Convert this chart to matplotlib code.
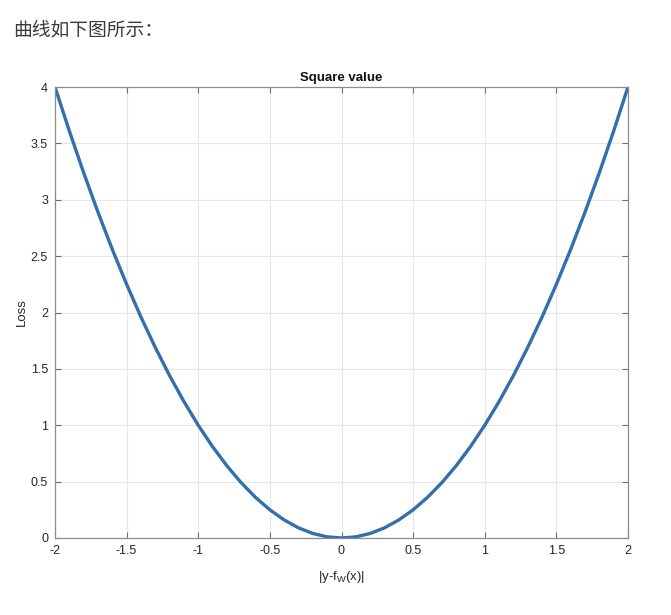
import matplotlib
matplotlib.use('Agg')
import matplotlib.pyplot as plt

plt.rcParams['font.family'] = ['Liberation Sans', 'Noto Sans CJK SC', 'DejaVu Sans']
plt.rcParams['mathtext.default'] = 'regular'

# values, step 0.1
x_vals = [-2.0, -1.9, -1.8, -1.7, -1.6, -1.5, -1.4, -1.3, -1.2, -1.1,
          -1.0, -0.9, -0.8, -0.7, -0.6, -0.5, -0.4, -0.3, -0.2, -0.1,
          0.0, 0.1, 0.2, 0.3, 0.4, 0.5, 0.6, 0.7, 0.8, 0.9,
          1.0, 1.1, 1.2, 1.3, 1.4, 1.5, 1.6, 1.7, 1.8, 1.9, 2.0]
loss_vals = [4.0, 3.61, 3.24, 2.89, 2.56, 2.25, 1.96, 1.69, 1.44, 1.21,
             1.0, 0.81, 0.64, 0.49, 0.36, 0.25, 0.16, 0.09, 0.04, 0.01,
             0.0, 0.01, 0.04, 0.09, 0.16, 0.25, 0.36, 0.49, 0.64, 0.81,
             1.0, 1.21, 1.44, 1.69, 1.96, 2.25, 2.56, 2.89, 3.24, 3.61, 4.0]
x_ticks = [-2, -1.5, -1, -0.5, 0, 0.5, 1, 1.5, 2]
x_tick_labels = ['-2', '-1.5', '-1', '-0.5', '0', '0.5', '1', '1.5', '2']
y_ticks = [0, 0.5, 1, 1.5, 2, 2.5, 3, 3.5, 4]
y_tick_labels = ['0', '0.5', '1', '1.5', '2', '2.5', '3', '3.5', '4']

fig = plt.figure(figsize=(6.71, 6.15), dpi=100)
fig.text(13 / 671, 1 - 30 / 615, '曲线如下图所示：', fontsize=13.5, color='#3a3a3a',
         va='center', ha='left', family=['Noto Sans CJK SC', 'DejaVu Sans'])

ax = fig.add_axes([55 / 671, 1 - 538 / 615, (628 - 55) / 671, (538 - 87) / 615])
ax.plot(x_vals, loss_vals, color='#3170ad', linewidth=2.4, solid_capstyle='round')

ax.set_xlim(-2, 2)
ax.set_ylim(0, 4)
ax.set_xticks(x_ticks)
ax.set_xticklabels(x_tick_labels)
ax.set_yticks(y_ticks)
ax.set_yticklabels(y_tick_labels)
ax.grid(True, color='#e6e6e6', linewidth=0.8)
ax.set_axisbelow(True)
ax.tick_params(direction='in', top=True, right=True, length=4, width=0.8,
               color='#707070', labelcolor='#262626', labelsize=9, pad=5)
for s in ax.spines.values():
    s.set_color('#8c8c8c')
    s.set_linewidth(0.9)

ax.set_title('Square value', fontsize=9.5, fontweight='bold', color='#111111', pad=4)
ax.set_xlabel('|y-f$_{W}$(x)|', fontsize=9.5, color='#262626', labelpad=9)
ax.set_ylabel('Loss', fontsize=9.5, color='#262626', labelpad=2)

fig.savefig('out.png', dpi=100)
